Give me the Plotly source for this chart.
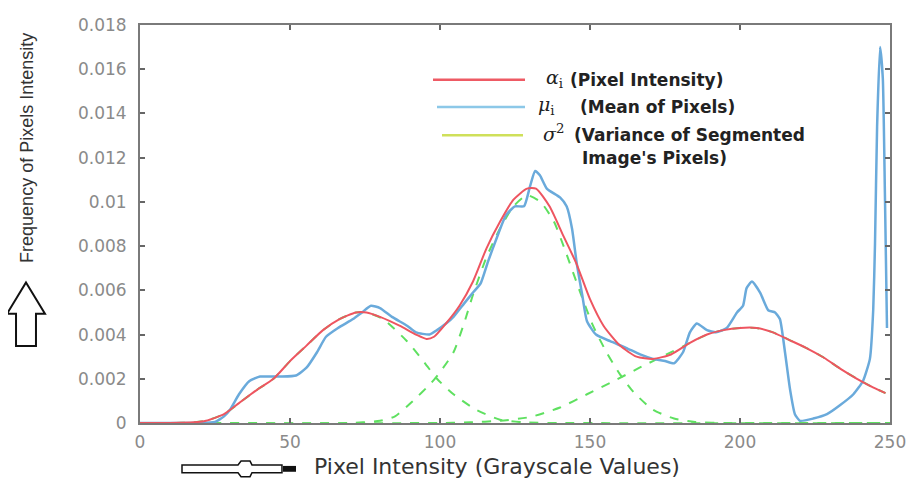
import plotly.graph_objects as go

# ---- data ----
hist_x = [0, 10, 20, 25, 28, 30, 33, 36.5, 40, 43, 47, 52, 55.5, 59, 62, 66, 71, 74, 77, 80, 84, 89, 92,
          96.5, 99, 102, 104.5, 108, 111, 113.5, 116, 119, 122, 125, 128, 130, 131.7, 133.3, 135.6, 140,
          142.2, 144, 145.6, 147.4, 149, 152, 156.7, 162, 166.7, 171, 175, 178, 181, 183.3, 185.6, 189,
          192, 195.6, 199, 201, 202.2, 204, 206.7, 209.4, 211.7, 213.3, 215, 216.7, 218.3, 220, 224.4,
          229, 233.3, 237.8, 241, 243.3, 244.4, 245, 245.7, 246.7, 247.6, 248.3, 249]
hist_y = [0, 0, 0, 0.00005, 0.0003, 0.0006, 0.0013, 0.0019, 0.0021, 0.0021, 0.0021, 0.00215, 0.0025,
          0.0032, 0.0039, 0.0043, 0.0047, 0.005, 0.0053, 0.0052, 0.0048, 0.0044, 0.0041, 0.004, 0.0042,
          0.0045, 0.0048, 0.0054, 0.0059, 0.0063, 0.0073, 0.0084, 0.0094, 0.0098, 0.0098, 0.0107, 0.0114,
          0.0112, 0.0106, 0.0102, 0.0098, 0.0088, 0.0072, 0.0058, 0.0046, 0.004, 0.0037, 0.0034, 0.0031,
          0.0029, 0.0028, 0.0027, 0.0032, 0.0041, 0.0045, 0.0042, 0.0041, 0.0043, 0.005, 0.0053, 0.0061,
          0.0064, 0.0059, 0.0051, 0.005, 0.0047, 0.0032, 0.0015, 0.0004, 0.0001, 0.0002, 0.0004, 0.0008,
          0.0013, 0.0019, 0.0029, 0.0051, 0.0081, 0.0134, 0.017, 0.0156, 0.0104, 0.0043]

sum_x = [0, 10, 18, 22, 28, 33, 39, 44.5, 50, 55.5, 61, 66.5, 72, 75.5, 80, 86.5, 92, 95.5, 98, 102,
         106.5, 111, 115.5, 120, 124.5, 129, 132, 136.5, 141, 145.5, 150, 154.5, 160, 165.5, 171, 177,
         183, 189, 194.5, 200, 205.5, 211, 216.5, 222, 228, 233.5, 239, 244.5, 248.5]
sum_y = [0, 0, 0.00003, 0.0001, 0.0004, 0.0009, 0.0015, 0.002, 0.0028, 0.0035, 0.0042, 0.0047, 0.005,
         0.005, 0.0048, 0.0044, 0.004, 0.0038, 0.0039, 0.0045, 0.0053, 0.0064, 0.0079, 0.0091, 0.0101,
         0.0106, 0.0106, 0.0098, 0.0085, 0.0072, 0.0056, 0.0044, 0.0035, 0.003, 0.0029, 0.0031, 0.0036,
         0.004, 0.0042, 0.0043, 0.0043, 0.0041, 0.00375, 0.0034, 0.00295, 0.00245, 0.002, 0.0016, 0.00135]

g1_x = [0, 10, 18, 22, 28, 33, 39, 44.5, 50, 55.5, 61, 66.5, 72, 75.5, 81, 89, 95, 99, 104.5, 112, 120,
        128, 140, 250]
g1_y = [0, 0, 0.00003, 0.0001, 0.0004, 0.0009, 0.0015, 0.002, 0.0028, 0.0035, 0.0042, 0.0047, 0.005,
        0.005, 0.0047, 0.0037, 0.0027, 0.002, 0.0013, 0.0006, 0.00015, 0.00003, 0, 0]

g2_x = [0, 70, 80, 85, 91, 97, 100, 104.5, 108, 111, 115.5, 120, 124.5, 129, 133.5, 138, 142, 146.5,
        151, 155.5, 160, 164.5, 171, 178, 185, 195, 250]
g2_y = [0, 0, 0.0001, 0.0003, 0.001, 0.0018, 0.0023, 0.0032, 0.0045, 0.0058, 0.0075, 0.0088, 0.0098,
        0.0103, 0.01, 0.0091, 0.0077, 0.006, 0.0044, 0.0032, 0.0022, 0.0014, 0.0006, 0.0002, 0.00005, 0, 0]

g3_x = [0, 100, 110, 120, 130, 140, 149, 158, 166.5, 175.5, 183, 189, 194.5, 200, 205.5, 211, 216.5,
        222, 228, 233.5, 239, 244.5, 248.5]
g3_y = [0, 0, 0.00003, 0.0001, 0.00027, 0.0007, 0.0013, 0.0019, 0.0025, 0.0031, 0.0036, 0.004, 0.0042,
        0.0043, 0.0043, 0.0041, 0.00375, 0.0034, 0.00295, 0.00245, 0.002, 0.0016, 0.00135]

x_ticks = [0, 50, 100, 150, 200, 250]
x_tick_text = ["0", "50", "100", "150", "200", "250"]
y_ticks = [0, 0.002, 0.004, 0.006, 0.008, 0.01, 0.012, 0.014, 0.016, 0.018]
y_tick_text = ["0", "0.002", "0.004", "0.006", "0.008", "0.01", "0.012", "0.014", "0.016", "0.018"]

RED = "#ee5560"
BLUE = "#6aaadb"
GREEN = "#5fe060"

fig = go.Figure()
for gx, gy in [(g1_x, g1_y), (g2_x, g2_y), (g3_x, g3_y)]:
    fig.add_trace(go.Scatter(x=gx, y=gy, mode="lines", line=dict(color=GREEN, width=2, dash="dash",
                                                                   shape="spline", smoothing=0.6),
                             showlegend=False, hoverinfo="skip"))
fig.add_trace(go.Scatter(x=hist_x, y=hist_y, mode="lines",
                         line=dict(color=BLUE, width=2.5, shape="spline", smoothing=0.5),
                         showlegend=False))
fig.add_trace(go.Scatter(x=sum_x, y=sum_y, mode="lines",
                         line=dict(color=RED, width=2, shape="spline", smoothing=0.6),
                         showlegend=False))

# The page body has an 8px margin, so the figure is drawn offset by 8px.
OFF = 8
W, H = 917 - OFF, 483 - OFF
L, R, T, B = 140 - OFF, 27, 15 - OFF, 60
PW, PH = W - L - R, H - T - B


# screenshot pixel -> paper helpers for decorations
def X(px):
    return (px - 140) / PW


def Y(py):
    return (423 - py) / PH


shapes = []
# legend lines
for (x0, x1, yy, col) in [(433, 525, 71, "#ee5a64"), (437, 525, 99, "#8cc8e8"), (442, 523, 128, "#cfe05a")]:
    shapes.append(dict(type="line", xref="paper", yref="paper", x0=X(x0), x1=X(x1), y0=Y(yy), y1=Y(yy),
                       line=dict(color=col, width=2.5)))

# up arrow (left)
pts = [(26, 279), (45, 311), (36, 311), (36, 344), (16, 344), (16, 311), (7, 311)]
path = "M " + " L ".join(f"{X(a):.4f},{Y(b):.4f}" for a, b in pts) + " Z"
shapes.append(dict(type="path", xref="paper", yref="paper", path=path,
                   line=dict(color="#111", width=2), fillcolor="white"))

# right arrow (bottom)
pts2 = [(182, 466), (238, 466), (241, 462), (250, 462), (252, 466), (282, 466), (282, 474), (252, 474),
        (250, 478), (241, 478), (238, 474), (182, 474)]
path2 = "M " + " L ".join(f"{X(a):.4f},{Y(b):.4f}" for a, b in pts2) + " Z"
shapes.append(dict(type="path", xref="paper", yref="paper", path=path2,
                   line=dict(color="#111", width=1.5), fillcolor="white"))
shapes.append(dict(type="rect", xref="paper", yref="paper", x0=X(283), x1=X(296), y0=Y(473), y1=Y(467),
                   line=dict(color="#111", width=0), fillcolor="#111"))

LEG_FONT = dict(family="DejaVu Sans", size=17, color="#222")
SYM_FONT = dict(family="DejaVu Serif", size=19, color="#222")
annotations = [
    dict(text="<i>α</i><sub>i</sub>", x=X(544), y=Y(70), font=SYM_FONT),
    dict(text="<b>(Pixel Intensity)</b>", x=X(568), y=Y(71), font=LEG_FONT),
    dict(text="<i>μ</i><sub>i</sub>", x=X(536), y=Y(98), font=SYM_FONT),
    dict(text="<b>(Mean of Pixels)</b>", x=X(578), y=Y(99), font=LEG_FONT),
    dict(text="<i>σ</i><sup>2</sup>", x=X(541), y=Y(126), font=SYM_FONT),
    dict(text="<b>(Variance of Segmented</b>", x=X(572), y=Y(128), font=LEG_FONT),
    dict(text="<b>Image's Pixels)</b>", x=X(580), y=Y(151), font=LEG_FONT),
    dict(text="Pixel Intensity (Grayscale Values)", x=X(312), y=Y(468),
         font=dict(family="DejaVu Sans", size=22, color="#333")),
    dict(text="Frequency of Pixels Intensity", x=X(27), y=Y(141), xanchor="center", textangle=-90,
         font=dict(family="Liberation Sans Narrow, Arial Narrow, Liberation Sans", size=18, color="#333")),
]
for a in annotations:
    a.setdefault("xanchor", "left")
    a.update(xref="paper", yref="paper", yanchor="middle", showarrow=False)

axis_common = dict(showline=True, mirror="ticks", linecolor="#7a7a7a", linewidth=2, ticks="inside",
                   ticklen=5, tickcolor="#666", tickwidth=1.5, showgrid=False, zeroline=False,
                   ticklabeloverflow="allow",
                   tickfont=dict(family="DejaVu Sans", size=17, color="#8a8a8a"))

fig.update_layout(
    width=W, height=H, margin=dict(l=L, r=R, t=T, b=B),
    paper_bgcolor="white", plot_bgcolor="white",
    xaxis=dict(range=[0, 250], tickvals=x_ticks, ticktext=x_tick_text, ticklabelstandoff=3, **axis_common),
    yaxis=dict(range=[0, 0.018], tickvals=y_ticks, ticktext=y_tick_text, ticklabelstandoff=8, **axis_common),
    shapes=shapes, annotations=annotations, showlegend=False,
)

fig.write_html("out.html")
